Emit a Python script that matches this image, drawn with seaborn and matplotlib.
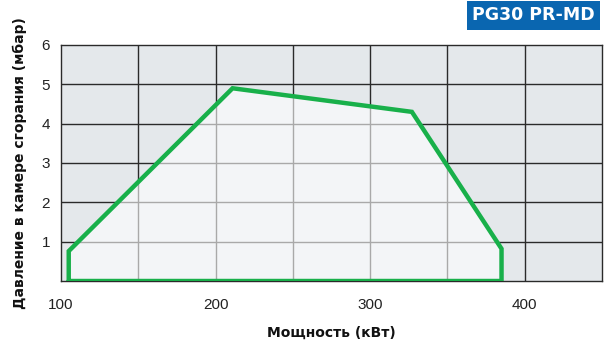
import seaborn as sns
import matplotlib.pyplot as plt
from matplotlib.patches import Polygon

# Рабочее поле горелки PG30 PR-MD
power_kw = [105, 105, 211, 327, 385, 385, 105]
pressure_mbar = [0, 0.76, 4.9, 4.3, 0.82, 0, 0]

x_ticks = [100, 200, 300, 400]
y_ticks = [1, 2, 3, 4, 5, 6]
x_grid = [150, 200, 250, 300, 350, 400]
y_grid = [1, 2, 3, 4, 5]

sns.set_style('white')
plt.rcParams['font.family'] = ['Liberation Sans', 'DejaVu Sans']

fig = plt.figure(figsize=(6.04, 3.42), dpi=100)
ax = fig.add_axes([61 / 604, 61 / 342, 541 / 604, 236 / 342])
ax.set_facecolor('#e4e8eb')
ax.set_xlim(100, 450)
ax.set_ylim(0, 6)

# сетка снаружи поля - тёмная
for gx in x_grid:
    ax.axvline(gx, color='#2a2a2a', lw=1, zorder=0)
for gy in y_grid:
    ax.axhline(gy, color='#2a2a2a', lw=1, zorder=0)

# заливка рабочего поля
poly = Polygon(list(zip(power_kw, pressure_mbar)), closed=True,
               facecolor='#f3f5f7', edgecolor='none', zorder=1)
ax.add_patch(poly)

# сетка внутри поля - светлая
for gx in x_grid:
    ln = ax.axvline(gx, color='#a9a9a9', lw=1, zorder=2)
    ln.set_clip_path(poly)
for gy in y_grid:
    ln = ax.axhline(gy, color='#a9a9a9', lw=1, zorder=2)
    ln.set_clip_path(poly)

sns.lineplot(x=power_kw, y=pressure_mbar, sort=False, estimator=None,
             color='#18b04a', lw=3.2, ax=ax, zorder=3)
ax.lines[-1].set_solid_joinstyle('miter')

ax.set_xticks(x_ticks)
ax.set_yticks(y_ticks)
ax.tick_params(axis='both', labelsize=11, colors='#222222', length=4, width=1,
               direction='out', pad=4)
ax.tick_params(axis='x', pad=8)
for s in ax.spines.values():
    s.set_color('#2a2a2a')
    s.set_linewidth(1)

ax.set_xlabel('Мощность (кВт)', fontsize=10, fontweight='bold', color='#111111',
              family=['DejaVu Sans'], labelpad=10)
ax.set_ylabel('Давление в камере сгорания (мбар)', fontsize=10, fontweight='bold',
              color='#111111', family=['DejaVu Sans'], labelpad=10)

fig.text(0.984, 0.955, 'PG30 PR-MD', ha='right', va='center', color='white',
         fontsize=12.5, fontweight='bold', family=['DejaVu Sans'],
         bbox=dict(boxstyle='square,pad=0.3', facecolor='#0a66b0', edgecolor='none'))

fig.savefig('out.png', dpi=100)
